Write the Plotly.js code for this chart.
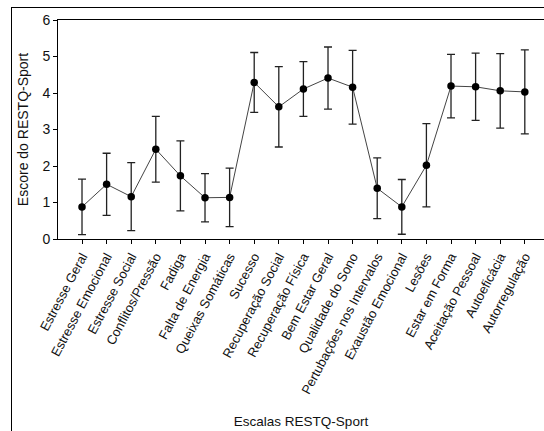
<!DOCTYPE html>
<html>
<head>
<meta charset="utf-8">
<script src="https://cdn.plot.ly/plotly-3.0.1.min.js"></script>
<style>
html,body{margin:0;padding:0;background:#fff;overflow:hidden;}
#wrap{position:relative;width:544px;height:431px;overflow:hidden;}
#chart{position:absolute;left:0;top:0;width:544px;height:431px;}
#frame{position:absolute;left:11px;top:7px;width:600px;height:500px;border-left:1px solid #000;border-top:1px solid #000;pointer-events:none;}
</style>
</head>
<body>
<div id="wrap"><div id="chart"></div><div id="frame"></div></div>
<script>
const categories = [
  "Estresse Geral", "Estresse Emocional", "Estresse Social", "Conflitos/Pressão",
  "Fadiga", "Falta de Energia", "Queixas Somáticas", "Sucesso",
  "Recuperação Social", "Recuperação Física", "Bem Estar Geral", "Qualidade do Sono",
  "Pertubações nos Intervalos", "Exaustão Emocional", "Lesões", "Estar em Forma",
  "Aceitação Pessoal", "Autoeficácia", "Autorregulação"
];
const means = [0.88, 1.50, 1.16, 2.46, 1.73, 1.13, 1.14, 4.29, 3.62, 4.11, 4.41, 4.16, 1.39, 0.88, 2.02, 4.19, 4.17, 4.06, 4.03];
const sds   = [0.76, 0.85, 0.93, 0.90, 0.96, 0.66, 0.80, 0.82, 1.10, 0.75, 0.85, 1.01, 0.83, 0.75, 1.14, 0.87, 0.92, 1.02, 1.15];
const yTicks = [0, 1, 2, 3, 4, 5, 6];

const xIdx = categories.map((c, i) => i);

const trace = {
  type: "scatter",
  mode: "lines+markers",
  x: xIdx,
  y: means,
  line: {color: "#444444", width: 1},
  marker: {color: "#000000", size: 7.5},
  error_y: {type: "data", array: sds, visible: true, color: "#222222", thickness: 1.3, width: 4},
  hoverinfo: "y"
};

const font = "Liberation Sans, Arial, sans-serif";

const layout = {
  width: 544,
  height: 431,
  margin: {l: 58, r: 0, t: 20, b: 192},
  paper_bgcolor: "rgba(0,0,0,0)",
  plot_bgcolor: "rgba(0,0,0,0)",
  showlegend: false,
  font: {family: font, color: "#111111"},
  xaxis: {
    range: [-0.976, 18.78],
    tickmode: "array",
    tickvals: xIdx,
    ticktext: categories,
    tickangle: -62,
    ticks: "outside",
    ticklen: 4,
    tickcolor: "#000",
    showline: true,
    linecolor: "#000",
    linewidth: 1,
    mirror: true,
    showgrid: false,
    zeroline: false,
    tickfont: {family: font, size: 13, color: "#111"},
    title: {text: "Escalas RESTQ-Sport", font: {family: font, size: 13.5, color: "#111"}, standoff: 20}
  },
  yaxis: {
    range: [0, 6],
    tickmode: "array",
    tickvals: yTicks,
    ticks: "outside",
    ticklen: 4,
    tickcolor: "#000",
    showline: true,
    linecolor: "#000",
    linewidth: 1,
    showgrid: false,
    zeroline: false,
    tickfont: {family: font, size: 14, color: "#111"},
    title: {text: "Escore do RESTQ-Sport", font: {family: font, size: 14, color: "#111"}, standoff: 10}
  }
};

Plotly.newPlot("chart", [trace], layout, {displayModeBar: false, staticPlot: true});
</script>
</body>
</html>
